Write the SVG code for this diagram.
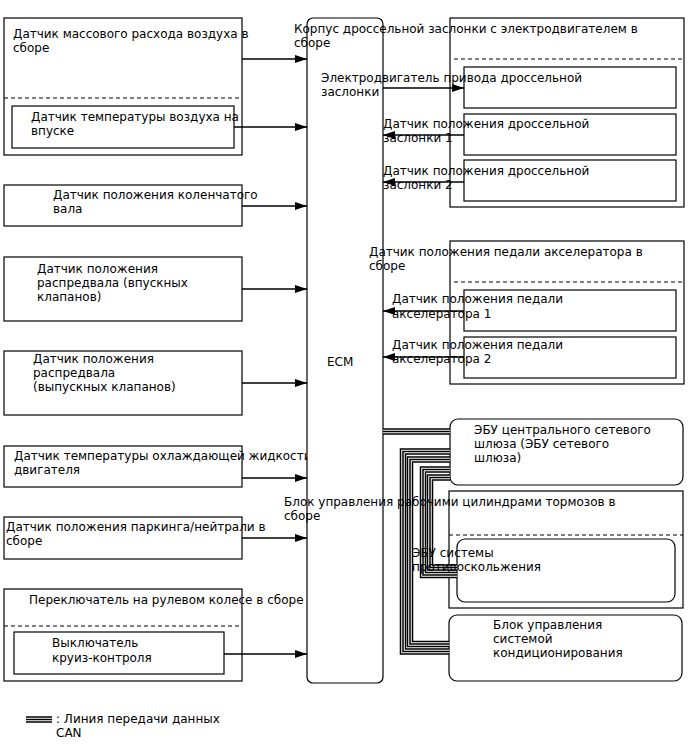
<svg xmlns="http://www.w3.org/2000/svg" width="688" height="755" viewBox="0 0 688 755">
<style>
text{font-family:"DejaVu Sans","Liberation Sans",sans-serif;font-size:12px;fill:#000}
.box{fill:#fff;stroke:#000;stroke-width:1.2}
.dash{fill:none;stroke:#000;stroke-width:1.2;stroke-dasharray:4,3}
.ln{fill:none;stroke:#000;stroke-width:1.5}
.c1{fill:none;stroke:#000;stroke-width:6.5}
.c2{fill:none;stroke:#fff;stroke-width:3.5}
.c3{fill:none;stroke:#000;stroke-width:1.5}
</style>
<defs>
<marker id="ah" viewBox="0 0 12 8" refX="12" refY="4" markerWidth="12" markerHeight="8" markerUnits="userSpaceOnUse" orient="auto">
<path d="M0,0 L12,4 L0,8 Z" fill="#000"/>
</marker>
</defs>
<rect width="688" height="755" fill="#fff"/>

<g id="maf">
<rect class="box" x="4" y="18" width="238" height="137"/>
<line class="dash" x1="4" y1="98" x2="242" y2="98"/>
<text x="13" y="38">Датчик массового расхода воздуха в</text>
<text x="13" y="52">сборе</text>
</g>
<g id="iat">
<rect class="box" x="12" y="106" width="222" height="42"/>
<text x="31" y="121">Датчик температуры воздуха на</text>
<text x="31" y="135">впуске</text>
</g>
<g id="ckp">
<rect class="box" x="4" y="185" width="238" height="41"/>
<text x="53" y="199">Датчик положения коленчатого</text>
<text x="53" y="213">вала</text>
</g>
<g id="cmp-in">
<rect class="box" x="4" y="257" width="238" height="64"/>
<text x="37" y="273">Датчик положения</text>
<text x="37" y="287">распредвала (впускных</text>
<text x="37" y="301">клапанов)</text>
</g>
<g id="cmp-ex">
<rect class="box" x="4" y="351" width="238" height="64"/>
<text x="33" y="363">Датчик положения</text>
<text x="33" y="377">распредвала</text>
<text x="33" y="391">(выпускных клапанов)</text>
</g>
<g id="ect">
<rect class="box" x="4" y="446" width="238" height="41"/>
<text x="14" y="460">Датчик температуры охлаждающей жидкости</text>
<text x="14" y="474">двигателя</text>
</g>
<g id="pn">
<rect class="box" x="4" y="517" width="238" height="42"/>
<text x="6" y="531">Датчик положения паркинга/нейтрали в</text>
<text x="6" y="545">сборе</text>
</g>
<g id="steer">
<rect class="box" x="4" y="589" width="238" height="92"/>
<line class="dash" x1="4" y1="626" x2="242" y2="626"/>
<text x="29" y="604">Переключатель на рулевом колесе в сборе</text>
</g>
<g id="cruise">
<rect class="box" x="14" y="632" width="210" height="42"/>
<text x="52" y="647">Выключатель</text>
<text x="52" y="662">круиз-контроля</text>
</g>

<g id="ecm">
<rect class="box" x="307" y="18" width="76" height="665" rx="6"/>
<text x="327" y="366">ECM</text>
</g>

<g id="throttle">
<rect class="box" x="450" y="18" width="234" height="189"/>
<line class="dash" x1="454" y1="59" x2="684" y2="59"/>
</g>
<g id="thr-motor">
<rect class="box" x="464" y="67" width="212" height="41"/>
</g>
<g id="tps1">
<rect class="box" x="464" y="114" width="212" height="41"/>
</g>
<g id="tps2">
<rect class="box" x="464" y="160" width="212" height="41"/>
</g>

<g id="app">
<rect class="box" x="450" y="241" width="234" height="143"/>
<line class="dash" x1="454" y1="282" x2="684" y2="282"/>
</g>
<g id="app1">
<rect class="box" x="464" y="290" width="212" height="41"/>
</g>
<g id="app2">
<rect class="box" x="464" y="337" width="212" height="41"/>
</g>

<g id="gateway">
<rect class="box" x="450" y="419" width="233" height="66" rx="8"/>
<text x="474" y="434">ЭБУ центрального сетевого</text>
<text x="474" y="448">шлюза (ЭБУ сетевого</text>
<text x="474" y="462">шлюза)</text>
</g>
<g id="brake">
<rect class="box" x="449" y="491" width="234" height="117"/>
<line class="dash" x1="449" y1="535" x2="683" y2="535"/>
</g>
<g id="abs">
<rect class="box" x="457" y="539" width="218" height="63" rx="8"/>
</g>
<g id="ac">
<rect class="box" x="449" y="615" width="233" height="66" rx="8"/>
<text x="493" y="629">Блок управления</text>
<text x="493" y="643">системой</text>
<text x="493" y="657">кондиционирования</text>
</g>

<g id="connectors">
<line class="ln" x1="242" y1="59" x2="307" y2="59" marker-end="url(#ah)"/>
<line class="ln" x1="234" y1="127" x2="307" y2="127" marker-end="url(#ah)"/>
<line class="ln" x1="242" y1="206" x2="307" y2="206" marker-end="url(#ah)"/>
<line class="ln" x1="242" y1="289" x2="307" y2="289" marker-end="url(#ah)"/>
<line class="ln" x1="242" y1="383" x2="307" y2="383" marker-end="url(#ah)"/>
<line class="ln" x1="242" y1="478" x2="307" y2="478" marker-end="url(#ah)"/>
<line class="ln" x1="242" y1="538" x2="307" y2="538" marker-end="url(#ah)"/>
<line class="ln" x1="224" y1="654" x2="307" y2="654" marker-end="url(#ah)"/>
<line class="ln" x1="383" y1="88" x2="464" y2="88" marker-end="url(#ah)"/>
<line class="ln" x1="464" y1="135" x2="383" y2="135" marker-end="url(#ah)"/>
<line class="ln" x1="464" y1="182" x2="383" y2="182" marker-end="url(#ah)"/>
<line class="ln" x1="464" y1="311" x2="383" y2="311" marker-end="url(#ah)"/>
<line class="ln" x1="464" y1="357" x2="383" y2="357" marker-end="url(#ah)"/>

<path class="c1" d="M383,431.5 H450"/>
<path class="c2" d="M383,431.5 H450"/>
<path class="c3" d="M383,431.5 H450"/>
<path class="c1" d="M450,451.5 H403 V651.5 H449"/>
<path class="c2" d="M450,451.5 H403 V651.5 H449"/>
<path class="c3" d="M450,451.5 H403 V651.5 H449"/>
<path class="c1" d="M450,459.5 H410 V644 H449"/>
<path class="c2" d="M450,459.5 H410 V644 H449"/>
<path class="c3" d="M450,459.5 H410 V644 H449"/>
<path class="c1" d="M450,469.5 H423 V575 H457"/>
<path class="c2" d="M450,469.5 H423 V575 H457"/>
<path class="c3" d="M450,469.5 H423 V575 H457"/>
<path class="c1" d="M450,477.5 H430 V567.5 H457"/>
<path class="c2" d="M450,477.5 H430 V567.5 H457"/>
<path class="c3" d="M450,477.5 H430 V567.5 H457"/>
</g>

<g id="labels">
<text x="294" y="33">Корпус дроссельной заслонки с электродвигателем в</text>
<text x="294" y="47">сборе</text>
<text x="321" y="82">Электродвигатель привода дроссельной</text>
<text x="321" y="96">заслонки</text>
<text x="383" y="128">Датчик положения дроссельной</text>
<text x="383" y="142">заслонки 1</text>
<text x="383" y="175">Датчик положения дроссельной</text>
<text x="383" y="189">заслонки 2</text>
<text x="369" y="256">Датчик положения педали акселератора в</text>
<text x="369" y="270">сборе</text>
<text x="392" y="303">Датчик положения педали</text>
<text x="392" y="318">акселератора 1</text>
<text x="392" y="349">Датчик положения педали</text>
<text x="392" y="363">акселератора 2</text>
<text x="284" y="506">Блок управления рабочими цилиндрами тормозов в</text>
<text x="284" y="520">сборе</text>
<text x="412" y="557">ЭБУ системы</text>
<text x="412" y="571">противоскольжения</text>
</g>

<g id="legend">
<path class="c1" d="M26,719.5 H52"/>
<path class="c2" d="M26,719.5 H52"/>
<path class="c3" d="M26,719.5 H52"/>
<text x="56" y="723">: Линия передачи данных</text>
<text x="56" y="737">CAN</text>
</g>
</svg>
